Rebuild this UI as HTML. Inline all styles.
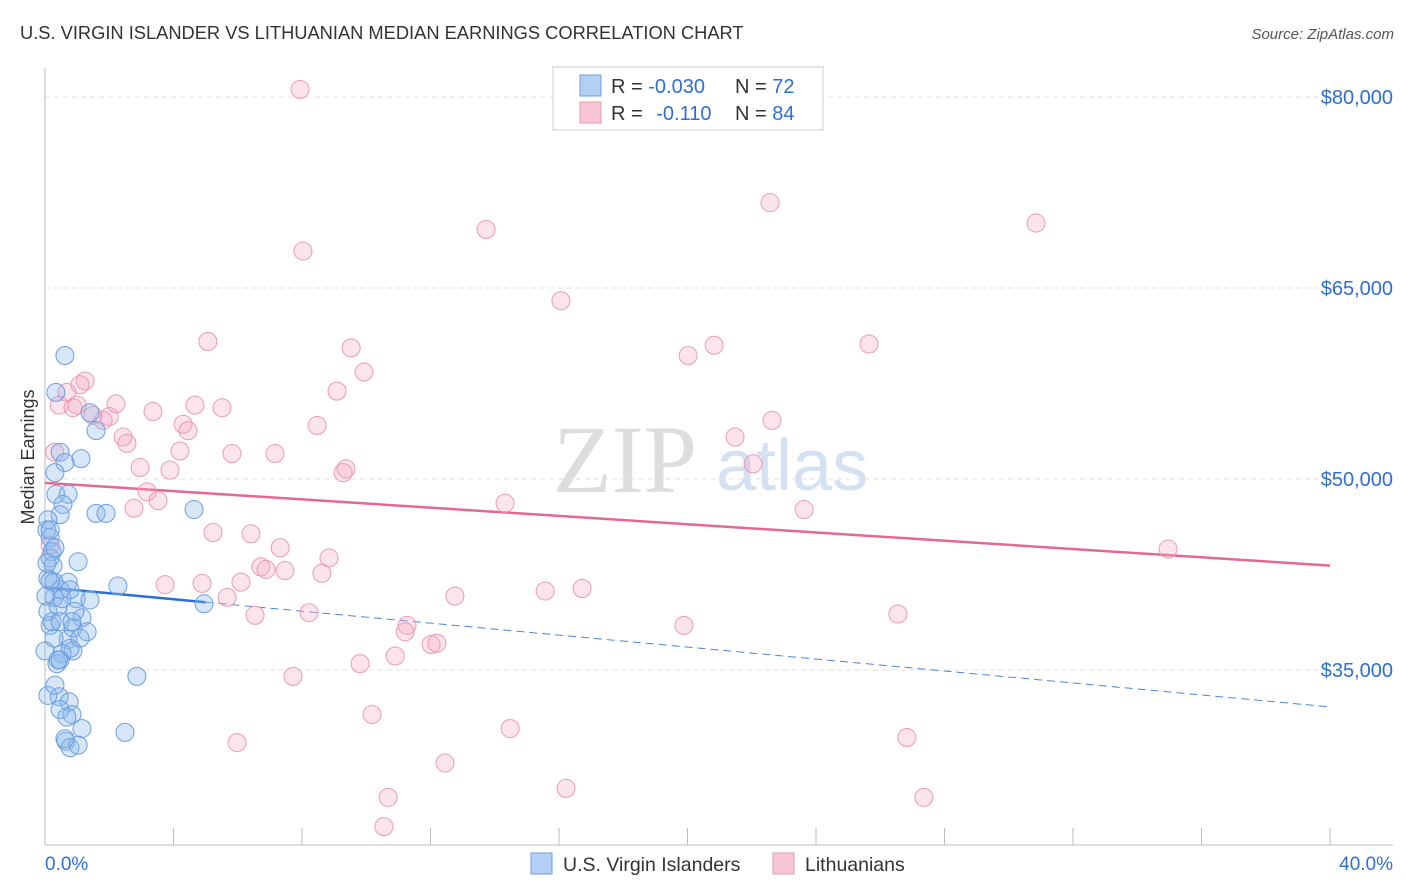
<!DOCTYPE html>
<html><head><meta charset="utf-8"><style>
body{margin:0;background:#fff;font-family:"Liberation Sans",sans-serif;}
svg{display:block}
</style></head><body>
<svg id="chart" width="1406" height="892">
<text x="20" y="39" font-size="18.3" fill="#333">U.S. VIRGIN ISLANDER VS LITHUANIAN MEDIAN EARNINGS CORRELATION CHART</text>
<text x="1394" y="39" font-size="15" fill="#555" font-style="italic" text-anchor="end">Source: ZipAtlas.com</text>
<text transform="translate(34,457) rotate(-90)" font-size="18" fill="#333" text-anchor="middle">Median Earnings</text>
<g id="watermark">
<text x="553" y="492" font-size="96" font-family="Liberation Serif,serif" fill="#ddd">ZIP</text>
<text x="716" y="490" font-size="72" fill="#d3e1f3">atlas</text>
</g>
<g id="grid"></g><g id="axes"></g><g id="trend"></g><g id="points"></g>
<g>
<rect x="553" y="67" width="270" height="63" fill="#fff" stroke="#ccc"/>
<rect x="580" y="75" width="21" height="21" fill="#b3cff3" stroke="#6d9ee0"/>
<rect x="580" y="102" width="21" height="21" fill="#f8c5d5" stroke="#e89ab2"/>
<text x="611" y="93" font-size="20" fill="#333">R = <tspan fill="#2f6fd0">-0.030</tspan></text>
<text x="735" y="93" font-size="20" fill="#333">N = <tspan fill="#2f6fd0">72</tspan></text>
<text x="611" y="120" font-size="20" fill="#333">R = <tspan fill="#2f6fd0" dx="8">-0.110</tspan></text>
<text x="735" y="120" font-size="20" fill="#333">N = <tspan fill="#2f6fd0">84</tspan></text>
</g>
<g>
<rect x="531" y="853" width="21" height="21" fill="#b3cff3" stroke="#6d9ee0"/>
<text x="563" y="871" font-size="19.5" fill="#333">U.S. Virgin Islanders</text>
<rect x="773" y="853" width="21" height="21" fill="#f8c5d5" stroke="#e89ab2"/>
<text x="805" y="871" font-size="19.5" fill="#333">Lithuanians</text>
</g>
</svg>
<script>
const yTicks=[35000,50000,65000,80000];
const yTickLabels=["$35,000","$50,000","$65,000","$80,000"];
const xTickLabels=["0.0%","40.0%"];
const blueX=[.62,.34,1.40,1.59,.47,1.12,.62,.31,.34,.72,.56,.47,1.59,1.90,4.64,.09,.06,.16,.22,.16,1.03,.25,.09,.28,.72,.47,2.27,.97,.28,4.95,1.15,.16,.87,1.31,.72,.28,.87,.53,.37,.47,.78,2.86,.44,.75,.47,.84,.68,1.15,2.49,.65,.78,1.03,.16,.03,.09,.22,.41,0,.06,.31,.53,.78,.47,.93,.09,1.09,.31,.62,.16,.84,.41,1.40];
const blueY=[59.7,56.8,55.2,53.8,52.1,51.6,51.3,50.5,48.8,48.8,48.0,47.2,47.3,47.3,47.6,46.8,46.0,45.4,44.3,43.8,43.5,43.2,42.2,41.9,41.9,41.3,41.6,40.6,40.7,40.2,39.1,38.5,38.3,38.0,37.4,37.5,36.5,36.3,35.5,35.8,36.7,34.5,32.9,32.5,31.9,31.5,31.3,30.4,30.1,29.4,28.9,29.1,42.0,40.8,39.6,38.8,40.0,36.5,43.4,44.6,40.6,41.3,38.8,39.6,33.0,37.5,33.8,29.6,46.0,38.8,35.8,40.5];
const pinkX=[7.94,22.57,30.85,13.73,8.03,16.06,5.07,9.53,20.02,20.83,25.65,9.93,1.25,1.09,.68,9.09,.44,.87,2.21,4.67,5.51,3.36,1.49,1.81,4.30,8.47,4.45,2.43,2.55,21.48,22.63,4.20,5.82,7.16,2.96,3.89,9.37,9.28,22.04,3.18,3.52,2.77,14.32,23.63,5.23,6.41,7.32,34.96,8.84,.16,6.72,6.88,7.47,8.62,6.10,3.74,4.89,5.67,12.76,15.57,16.72,6.54,8.22,26.55,19.89,11.27,11.21,12.02,12.20,10.90,9.81,7.72,10.18,14.48,5.98,26.83,12.45,16.22,10.68,27.36,10.55,.3,1.0,2.0];
const pinkY=[80.6,71.7,70.1,69.6,67.9,64.0,60.8,60.3,59.7,60.5,60.6,58.4,57.7,57.4,56.8,56.9,55.8,55.6,55.9,55.8,55.6,55.3,55.0,54.6,54.3,54.2,53.8,53.3,52.8,53.3,54.6,52.2,52.0,52.0,50.9,50.7,50.8,50.5,51.2,49.0,48.3,47.7,48.1,47.6,45.8,45.7,44.6,44.5,43.8,44.8,43.1,42.9,42.8,42.6,41.9,41.7,41.8,40.7,40.8,41.2,41.4,39.3,39.5,39.4,38.5,38.5,38.0,37.0,37.1,36.1,35.5,34.5,31.5,30.4,29.3,29.7,27.7,25.7,25.0,25.0,22.7,52.1,55.8,54.9];
const trendPink=[49.7,43.2];
const trendBlue=[41.5,32.1];
const blueSolidEnd=5;
const NS="http://www.w3.org/2000/svg";
const X0=45,X1=1330;
const xs=p=>X0+(X1-X0)*p/40;
const ys=k=>670-(k*1000-35000)*191/15000;
function mk(tag,attrs,parent){const e=document.createElementNS(NS,tag);for(const k in attrs)e.setAttribute(k,attrs[k]);document.getElementById(parent).appendChild(e);return e;}
yTicks.forEach((v,i)=>{
 const g=mk('line',{x1:X0,x2:1393,y1:ys(v/1000),y2:ys(v/1000),stroke:'#e2e2e2','stroke-dasharray':'5,4'},'grid');
 
 
 const t=mk('text',{x:1393,y:ys(v/1000)+7,'font-size':20,fill:'#2f6fd0','text-anchor':'end'},'axes');
 t.textContent=yTickLabels[i];
 
 
});
mk('line',{x1:X0,x2:X0,y1:68,y2:845,stroke:'#bbb'},'axes');
mk('line',{x1:X0,x2:1393,y1:845,y2:845,stroke:'#bbb'},'axes');
for(let i=0;i<=10;i++){const t=mk('line',{x1:xs(i*4),x2:xs(i*4),y1:828,y2:845,stroke:'#bbb'},'axes');
 
 }
[[X0,'start'],[1393,'end']].forEach((p,i)=>{const t=mk('text',{x:p[0],y:870,'font-size':19,fill:'#2f6fd0','text-anchor':p[1]},'axes');t.textContent=xTickLabels[i];
 
 });
function dot(x,y,c,r){const e=mk('circle',{cx:xs(x),cy:ys(y),r:r,fill:c[0],stroke:c[1],'stroke-width':1},'points');return e;}
pinkX.forEach((x,i)=>{const e=dot(x,pinkY[i],['rgba(244,165,192,0.3)','#eb9ab5'],9);
 
 });
blueX.forEach((x,i)=>{const e=dot(x,blueY[i],['rgba(140,182,236,0.35)','#6b9fe0'],9);
 
 });
const tp=mk('line',{x1:xs(0),x2:xs(40),y1:ys(trendPink[0]),y2:ys(trendPink[1]),stroke:'#e5688f','stroke-width':2.5},'trend');


const bAt=p=>trendBlue[0]+(trendBlue[1]-trendBlue[0])*p/40;
const tb=mk('line',{x1:xs(0),x2:xs(blueSolidEnd),y1:ys(bAt(0)),y2:ys(bAt(blueSolidEnd)),stroke:'#2a6fd6','stroke-width':2.5},'trend');


const td=mk('line',{x1:xs(blueSolidEnd),x2:xs(40),y1:ys(bAt(blueSolidEnd)),y2:ys(bAt(40)),stroke:'#4a86dc','stroke-width':1,'stroke-dasharray':'8,5'},'trend');


</script>
</body></html>
